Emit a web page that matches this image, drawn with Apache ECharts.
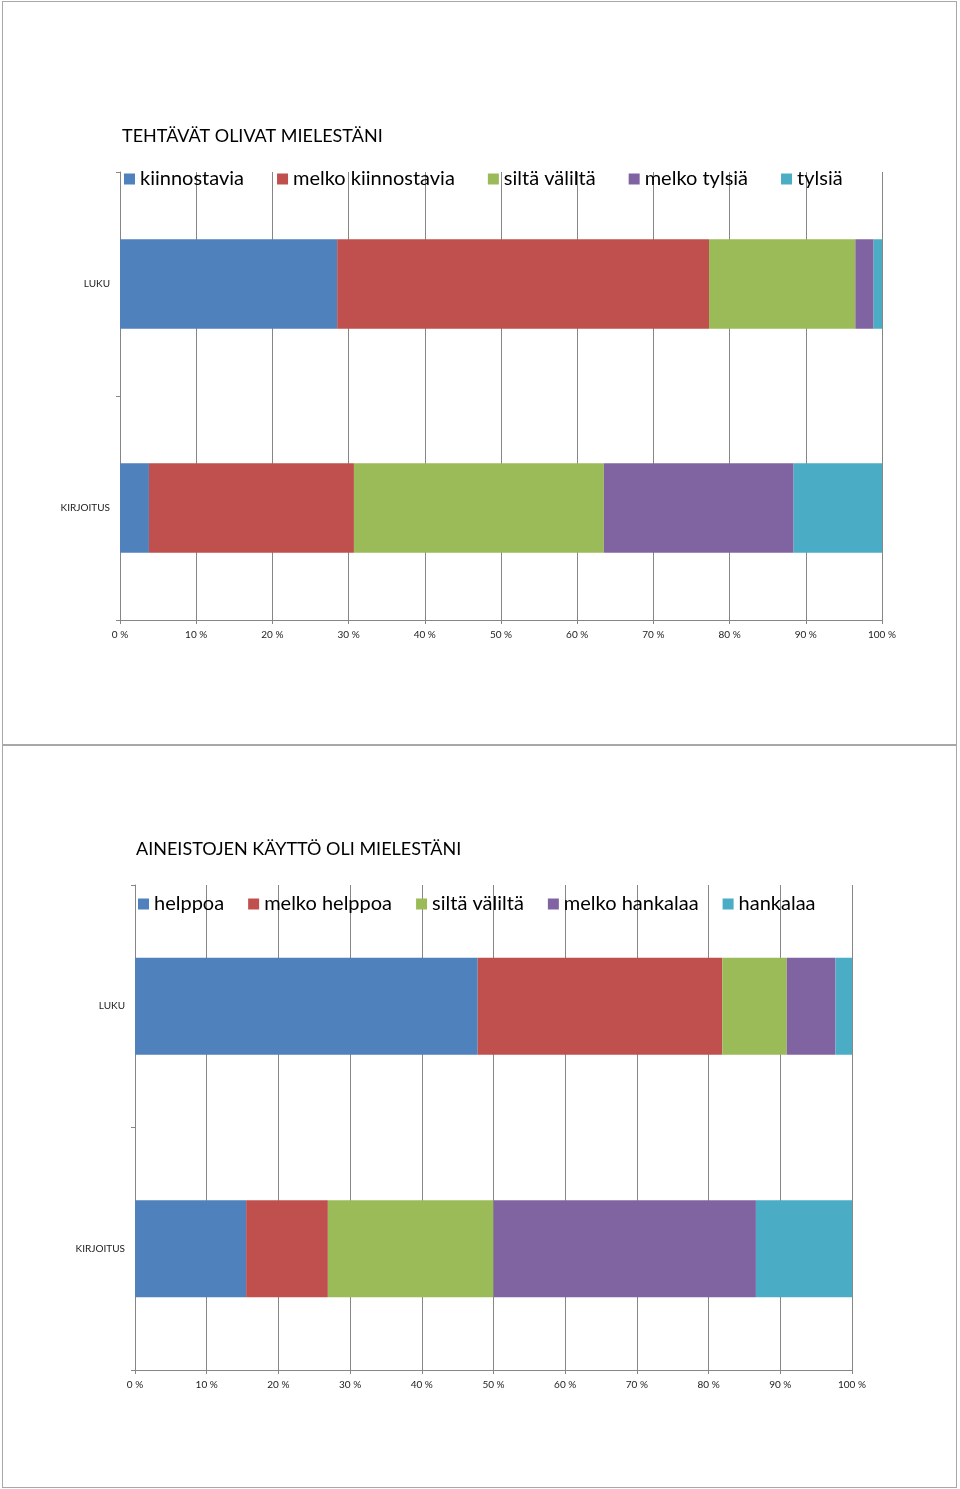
<!DOCTYPE html>
<html>
<head>
<meta charset="utf-8">
<script src="https://cdn.jsdelivr.net/npm/echarts@6.0.0/dist/echarts.min.js"></script>
<style>
  body { margin: 0; background: #fff; }
  .frame { position: absolute; left: 2px; width: 955px; border: 1px solid #a8a8a8; box-sizing: border-box; }
  .chart { position: absolute; left: 0; width: 960px; }
</style>
</head>
<body>
<div class="frame" style="top:1px;height:745px"></div>
<div class="frame" style="top:744px;height:744px"></div>
<div class="chart" id="chart1" style="top:0;height:745px"></div>
<div class="chart" id="chart2" style="top:745px;height:744px"></div>
<script>
// categories (top to bottom)
var categories = ["LUKU", "KIRJOITUS"];
var colors = ["#4F81BD", "#C0504D", "#9BBB59", "#8064A2", "#4BACC6"];

// chart 1: TEHTÄVÄT OLIVAT MIELESTÄNI
var names1 = ["kiinnostavia", "melko kiinnostavia", "siltä väliltä", "melko tylsiä", "tylsiä"];
var tehtavatLuku = [28.5, 48.8, 19.2, 2.4, 1.1];
var tehtavatKirjoitus = [3.8, 26.9, 32.8, 24.9, 11.6];

// chart 2: AINEISTOJEN KÄYTTÖ OLI MIELESTÄNI
var names2 = ["helppoa", "melko helppoa", "siltä väliltä", "melko hankalaa", "hankalaa"];
var aineistoLuku = [47.8, 34.1, 9.0, 6.8, 2.3];
var aineistoKirjoitus = [15.5, 11.4, 23.1, 36.6, 13.4];

var FONT = "Lato";
var axisGray = "#868686";

function makeChart(el, cfg) {
  var chart = echarts.init(document.getElementById(el));
  var series = [];
  cfg.names.map(function (name, i) {
    series.push({
      name: name,
      type: "bar",
      stack: "total",
      barWidth: "40%",
      itemStyle: { color: colors[i] },
      data: [cfg.luku[i], cfg.kirjoitus[i]],
      animation: false,
    });
  });
  var options = {
    color: colors,
    title: {
      text: cfg.title,
      left: cfg.titleLeft,
      top: cfg.titleTop,
      padding: 0,
      textStyle: { fontFamily: FONT, fontSize: 18, fontWeight: "normal", color: "#000" },
    },
    legend: {
      left: cfg.legendLeft,
      top: cfg.legendTop,
      padding: 0,
      icon: "rect",
      itemWidth: 11,
      itemHeight: 11,
      itemGap: cfg.legendGap,
      textStyle: { fontFamily: FONT, fontSize: 20, color: "#000", padding: [0, 0, 0, 0] },
      data: cfg.names,
    },
    grid: cfg.grid,
    xAxis: {
      type: "value",
      min: 0,
      max: 100,
      interval: 10,
      axisLine: { show: true, lineStyle: { color: axisGray } },
      axisTick: { show: true, length: 4, lineStyle: { color: axisGray } },
      axisLabel: {
        formatter: "{value} %",
        fontFamily: FONT,
        fontSize: 10,
        color: "#222",
        margin: 10,
      },
      splitLine: { show: true, lineStyle: { color: axisGray, width: 1 } },
    },
    yAxis: {
      type: "category",
      inverse: true,
      data: categories,
      axisLine: { show: true, lineStyle: { color: axisGray } },
      axisTick: { show: true, length: 4, lineStyle: { color: axisGray } },
      axisLabel: { fontFamily: FONT, fontSize: 10, color: "#222", margin: 10 },
    },
    series: series,
  };
  chart.setOption(options, true);
  return chart;
}

makeChart("chart1", {
  title: "TEHTÄVÄT OLIVAT MIELESTÄNI",
  titleLeft: 122,
  titleTop: 127,
  legendLeft: 124,
  legendTop: 169,
  legendGap: 33,
  names: names1,
  luku: tehtavatLuku,
  kirjoitus: tehtavatKirjoitus,
  grid: { left: 120, top: 172, width: 762, height: 448 },
});

makeChart("chart2", {
  title: "AINEISTOJEN KÄYTTÖ OLI MIELESTÄNI",
  titleLeft: 136,
  titleTop: 95,
  legendLeft: 138,
  legendTop: 149,
  legendGap: 24,
  names: names2,
  luku: aineistoLuku,
  kirjoitus: aineistoKirjoitus,
  grid: { left: 135, top: 140, width: 717, height: 485 },
});
</script>
</body>
</html>
